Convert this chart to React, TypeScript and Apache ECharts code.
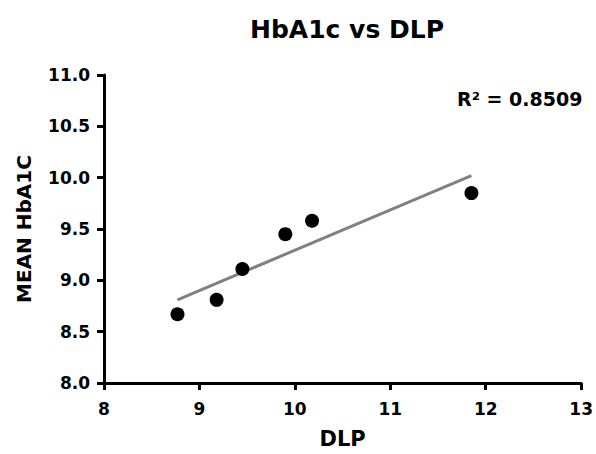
import React, { useEffect, useRef } from "react";
import * as echarts from "echarts";

const titleText = "HbA1c vs DLP";
const xName = "DLP";
const yName = "MEAN HbA1C";
const r2Label = "R² = 0.8509";
const dlpValues = [8.77, 9.18, 9.45, 9.9, 10.18, 11.85];
const hba1cValues = [8.67, 8.81, 9.11, 9.45, 9.58, 9.85];
const trendX = [8.77, 11.85];
const trendY = [8.81, 10.02];

const FONT = "'DejaVu Sans', Verdana, sans-serif";

export default function App() {
  const ref = useRef<HTMLDivElement>(null);
  useEffect(() => {
    if (!ref.current) return;
    const chart = echarts.init(ref.current, undefined, { renderer: "svg" });
    const points = dlpValues.map((x, i) => [x, hba1cValues[i]]);
    const trend = trendX.map((x, i) => [x, trendY[i]]);
    chart.setOption({
      animation: false,
      backgroundColor: "#ffffff",
      title: {
        text: titleText,
        left: 342,
        top: 12,
        textAlign: "center",
        textStyle: { fontFamily: FONT, fontWeight: "bold", fontSize: 25, color: "#000" },
      },
      grid: { left: 104, right: 14, top: 75, bottom: 68, containLabel: false },
      xAxis: {
        type: "value",
        min: 8,
        max: 13,
        interval: 1,
        name: xName,
        nameLocation: "middle",
        nameGap: 45,
        nameTextStyle: { fontFamily: FONT, fontWeight: "bold", fontSize: 21, color: "#000" },
        axisLine: { show: true, onZero: false, lineStyle: { color: "#000", width: 3 } },
        axisTick: { show: true, length: 7, lineStyle: { color: "#000", width: 3 } },
        axisLabel: { margin: 17, fontFamily: FONT, fontWeight: "bold", fontSize: 17, color: "#000" },
        splitLine: { show: false },
      },
      yAxis: {
        type: "value",
        min: 8,
        max: 11,
        interval: 0.5,
        name: yName,
        nameLocation: "middle",
        nameGap: 70,
        nameTextStyle: { fontFamily: FONT, fontWeight: "bold", fontSize: 20, color: "#000" },
        axisLine: { show: true, onZero: false, lineStyle: { color: "#000", width: 3 } },
        axisTick: { show: true, length: 7, lineStyle: { color: "#000", width: 3 } },
        axisLabel: {
          margin: 14,
          fontFamily: FONT,
          fontWeight: "bold",
          fontSize: 17,
          color: "#000",
          formatter: (v: number) => v.toFixed(1),
        },
        splitLine: { show: false },
      },
      graphic: [
        {
          type: "text",
          x: 457,
          y: 99,
          style: {
            text: r2Label,
            fontFamily: FONT,
            fontWeight: "bold",
            fontSize: 19,
            fill: "#000",
            verticalAlign: "middle",
            align: "left",
          },
        },
      ],
      series: [
        {
          type: "line",
          data: trend,
          symbol: "none",
          lineStyle: { color: "#808080", width: 3 },
          silent: true,
          z: 1,
        },
        {
          type: "scatter",
          data: points,
          symbol: "circle",
          symbolSize: 14,
          itemStyle: { color: "#000", opacity: 1 },
          z: 2,
        },
      ],
    });
    return () => chart.dispose();
  }, []);
  return (
    <div
      ref={ref}
      style={{ position: "absolute", left: 0, top: 0, width: 596, height: 454 }}
    />
  );
}
